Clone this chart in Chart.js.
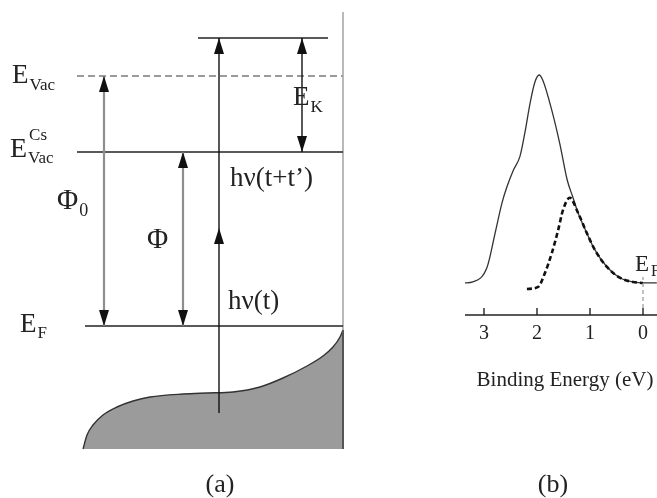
<!DOCTYPE html>
<html><head><meta charset="utf-8">
<script src="https://cdn.jsdelivr.net/npm/chart.js@4/dist/chart.umd.min.js"></script>
<style>
html,body{margin:0;padding:0;background:#fff;width:657px;height:498px;overflow:hidden;}
#wrap{position:relative;width:657px;height:498px;}
canvas{position:absolute;top:0;}
#ca{left:0;}
#cb{left:400px;}
</style></head><body>
<div id="wrap"><canvas id="ca" width="400" height="498"></canvas><canvas id="cb" width="257" height="498"></canvas></div>
<script>
// ---------- Panel (a): energy diagram (relative energy units, E_F = 0) ----------
const levelNames  = ['top', 'E_Vac', 'E_Vac^Cs', 'E_F'];
const levelEnergy = [2.88, 2.50, 1.74, 0.00];
const levelStartX = [19.8, 7.7, 7.7, 8.5];
const levelEndX   = [32.8, 34.3, 34.3, 34.3];

const arrowNames = ['Φ0', 'Φ', 'hν', 'E_K'];
const arrowX     = [10.4, 18.3, 21.9, 30.2];
const arrowFrom  = [0.00, 0.00, -0.87, 1.74];
const arrowTo    = [2.50, 1.74, 2.88, 2.88];
const arrowHeads = [
  [{at: 2.50, dir: 1}, {at: 0.00, dir: -1}],
  [{at: 1.74, dir: 1}, {at: 0.00, dir: -1}],
  [{at: 2.88, dir: 1}, {at: 0.98, dir: 1}],
  [{at: 2.88, dir: 1}, {at: 1.74, dir: -1}]
];

const wallX = 34.3, wallTop = 3.14, dosBottom = -1.23;
const dosX = [8.3, 8.7, 9.3, 10.3, 11.7, 13.3, 15.0, 18.3, 20.7, 23.3, 26.0, 28.3, 30.7, 32.3, 33.3, 34.0, 34.3];
const dosE = [-1.23, -1.09, -0.99, -0.89, -0.81, -0.75, -0.71, -0.68, -0.67, -0.66, -0.61, -0.52, -0.40, -0.30, -0.21, -0.11, -0.04];

// ---------- Panel (b): photoemission spectrum ----------
const bindingTicks = [3, 2, 1, 0];
const totalE = [3.36, 3.21, 2.94, 2.79, 2.66, 2.57, 2.45, 2.32, 2.23, 2.13, 2.04, 1.96, 1.89, 1.72, 1.57, 1.43, 1.32, 1.23, 1.06, 0.91, 0.68, 0.43, 0.19, 0.00, -0.26];
const totalI = [0, 0.005, 0.077, 0.24, 0.385, 0.46, 0.54, 0.61, 0.72, 0.865, 0.965, 1.0, 0.975, 0.83, 0.67, 0.495, 0.41, 0.34, 0.24, 0.16, 0.077, 0.024, 0.005, 0, 0];
const dashedE = [2.19, 1.98, 1.85, 1.72, 1.60, 1.51, 1.38, 1.23, 1.06, 0.91, 0.68, 0.43, 0.19, 0.00];
const dashedI = [-0.029, -0.019, 0.048, 0.144, 0.255, 0.35, 0.41, 0.34, 0.24, 0.16, 0.077, 0.024, 0.005, 0];

const FONT = '"Liberation Serif", "DejaVu Serif", serif';
const TEXT = '#222';

function pts(xs, ys) { return xs.map((x, i) => ({x: x, y: ys[i]})); }
function seg(x1, y1, x2, y2) { return [{x: x1, y: y1}, {x: x2, y: y2}]; }

function drawLabel(ctx, x, y, main, opt) {
  opt = opt || {};
  const ms = opt.size || 27, ss = opt.subSize || 17;
  ctx.fillStyle = TEXT;
  ctx.textBaseline = 'alphabetic';
  ctx.font = ms + 'px ' + FONT;
  ctx.textAlign = opt.align || 'left';
  ctx.fillText(main, x, y);
  const w = ctx.measureText(main).width;
  ctx.textAlign = 'left';
  ctx.font = ss + 'px ' + FONT;
  if (opt.sub) ctx.fillText(opt.sub, x + w + (opt.subDx || 1), y + (opt.subDy || 7));
  if (opt.sup) ctx.fillText(opt.sup, x + w + (opt.supDx || 2), y + (opt.supDy || -17));
}

// ----- chart A datasets -----
const dsA = [];
arrowNames.forEach((n, i) => {
  const grey = i < 2;
  dsA.push({
    label: n, data: seg(arrowX[i], arrowFrom[i], arrowX[i], arrowTo[i]),
    borderColor: grey ? '#8e8e8e' : '#111', borderWidth: grey ? 2.2 : 1.4,
    pointRadius: 0, heads: arrowHeads[i]
  });
});
levelNames.forEach((n, i) => {
  const dashed = n === 'E_Vac';
  dsA.push({
    label: n, data: seg(levelStartX[i], levelEnergy[i], levelEndX[i], levelEnergy[i]),
    borderColor: dashed ? '#9a9a9a' : '#222', borderWidth: dashed ? 2 : 1.4,
    borderDash: dashed ? [7, 4] : [], pointRadius: 0
  });
});
dsA.push({label: 'wall', data: seg(wallX, wallTop, wallX, dosE[dosE.length - 1]),
  borderColor: '#a8a8a8', borderWidth: 1.6, pointRadius: 0});
dsA.push({label: 'wall2', data: seg(wallX, dosE[dosE.length - 1], wallX, dosBottom),
  borderColor: '#555', borderWidth: 2, pointRadius: 0});
dsA.push({label: 'DOS', data: pts(dosX, dosE), borderColor: '#333', borderWidth: 1.4,
  backgroundColor: '#9b9b9b', fill: {value: dosBottom}, pointRadius: 0,
  cubicInterpolationMode: 'monotone'});

const arrowPlugin = {
  id: 'arrowHeads',
  afterDatasetsDraw(chart) {
    const ctx = chart.ctx, xs = chart.scales.x, ys = chart.scales.y;
    chart.data.datasets.forEach(ds => {
      if (!ds.heads) return;
      const px = xs.getPixelForValue(ds.data[0].x);
      ds.heads.forEach(h => {
        const tip = ys.getPixelForValue(h.at);
        const base = tip + h.dir * 16;
        ctx.save();
        ctx.fillStyle = '#111';
        ctx.beginPath();
        ctx.moveTo(px, tip);
        ctx.lineTo(px - 5, base);
        ctx.lineTo(px + 5, base);
        ctx.closePath();
        ctx.fill();
        ctx.restore();
      });
    });
  }
};

// label anchors (schematic x units, energy units)
const labelsA = [
  {x: 1.2, y: 2.43, main: 'E', sub: 'Vac'},
  {x: 1.0, y: 1.69, main: 'E', sub: 'Vac', sup: 'Cs', size: 28, subDy: 6, supDy: -17},
  {x: 5.7, y: 1.17, main: 'Φ', sub: '0', subDy: 7, size: 29, subSize: 18},
  {x: 14.7, y: 0.78, main: 'Φ', size: 29},
  {x: 23.0, y: 1.40, main: 'hν(t+t’)'},
  {x: 22.8, y: 0.17, main: 'hν(t)'},
  {x: 29.3, y: 2.21, main: 'E', sub: 'K'},
  {x: 2.0, y: -0.06, main: 'E', sub: 'F', subDy: 6},
  {x: 22.0, y: -1.66, main: '(a)', size: 26, align: 'center'}
];
const labelPluginA = {
  id: 'labelsA',
  afterDraw(chart) {
    const ctx = chart.ctx, xs = chart.scales.x, ys = chart.scales.y;
    ctx.save();
    labelsA.forEach(l => drawLabel(ctx, xs.getPixelForValue(l.x), ys.getPixelForValue(l.y), l.main, l));
    ctx.restore();
  }
};

new Chart(document.getElementById('ca'), {
  type: 'line',
  data: {datasets: dsA},
  options: {
    responsive: false, animation: false,
    layout: {padding: 0},
    scales: {
      x: {type: 'linear', display: false, min: 0, max: 40},
      y: {type: 'linear', display: false, min: -1.72, max: 3.26}
    },
    plugins: {legend: {display: false}, tooltip: {enabled: false}}
  },
  plugins: [arrowPlugin, labelPluginA]
});

// ----- chart B -----
const axisPluginB = {
  id: 'axisB',
  afterDraw(chart) {
    const ctx = chart.ctx, xs = chart.scales.x, ys = chart.scales.y, a = chart.chartArea;
    ctx.save();
    ctx.strokeStyle = '#222';
    ctx.lineWidth = 1.6;
    ctx.beginPath();
    ctx.moveTo(a.left, a.bottom); ctx.lineTo(a.right, a.bottom);
    ctx.stroke();
    ctx.lineWidth = 1.4;
    bindingTicks.forEach(t => {
      const px = xs.getPixelForValue(t);
      ctx.beginPath(); ctx.moveTo(px, a.bottom); ctx.lineTo(px, a.bottom - 7); ctx.stroke();
    });
    // E_F marker
    const pf = xs.getPixelForValue(0);
    ctx.strokeStyle = '#999'; ctx.lineWidth = 1.2; ctx.setLineDash([4, 3]);
    ctx.beginPath(); ctx.moveTo(pf, a.bottom - 7); ctx.lineTo(pf, ys.getPixelForValue(0) - 6); ctx.stroke();
    ctx.setLineDash([]);
    // tick labels
    ctx.fillStyle = TEXT; ctx.font = '20px ' + FONT;
    ctx.textAlign = 'center'; ctx.textBaseline = 'middle';
    bindingTicks.forEach(t => ctx.fillText(String(t), xs.getPixelForValue(t), a.bottom + 19));
    ctx.font = '21px ' + FONT;
    ctx.fillText('Binding Energy (eV)', a.left + 100, a.bottom + 65);
    ctx.textBaseline = 'alphabetic';
    ctx.font = '26px ' + FONT;
    ctx.fillText('(b)', a.left + 88, 492);
    drawLabel(ctx, xs.getPixelForValue(0.15), ys.getPixelForValue(0.058), 'E', {size: 23, sub: 'F', subSize: 16, subDx: 2, subDy: 5});
    ctx.restore();
  }
};

new Chart(document.getElementById('cb'), {
  type: 'line',
  data: {datasets: [
    {label: 'dashed', data: pts(dashedE, dashedI), borderColor: '#111', borderWidth: 2.6,
     borderDash: [5, 3], pointRadius: 0, cubicInterpolationMode: 'monotone'},
    {label: 'total', data: pts(totalE, totalI), borderColor: '#333', borderWidth: 1.3,
     pointRadius: 0, cubicInterpolationMode: 'monotone'}
  ]},
  options: {
    responsive: false, animation: false,
    layout: {padding: {left: 65, right: 0, top: 60, bottom: 183}},
    scales: {
      x: {type: 'linear', display: false, reverse: true, min: -0.264, max: 3.358},
      y: {type: 'linear', display: false, min: -0.154, max: 1.072}
    },
    plugins: {legend: {display: false}, tooltip: {enabled: false}}
  },
  plugins: [axisPluginB]
});
</script>
</body></html>
